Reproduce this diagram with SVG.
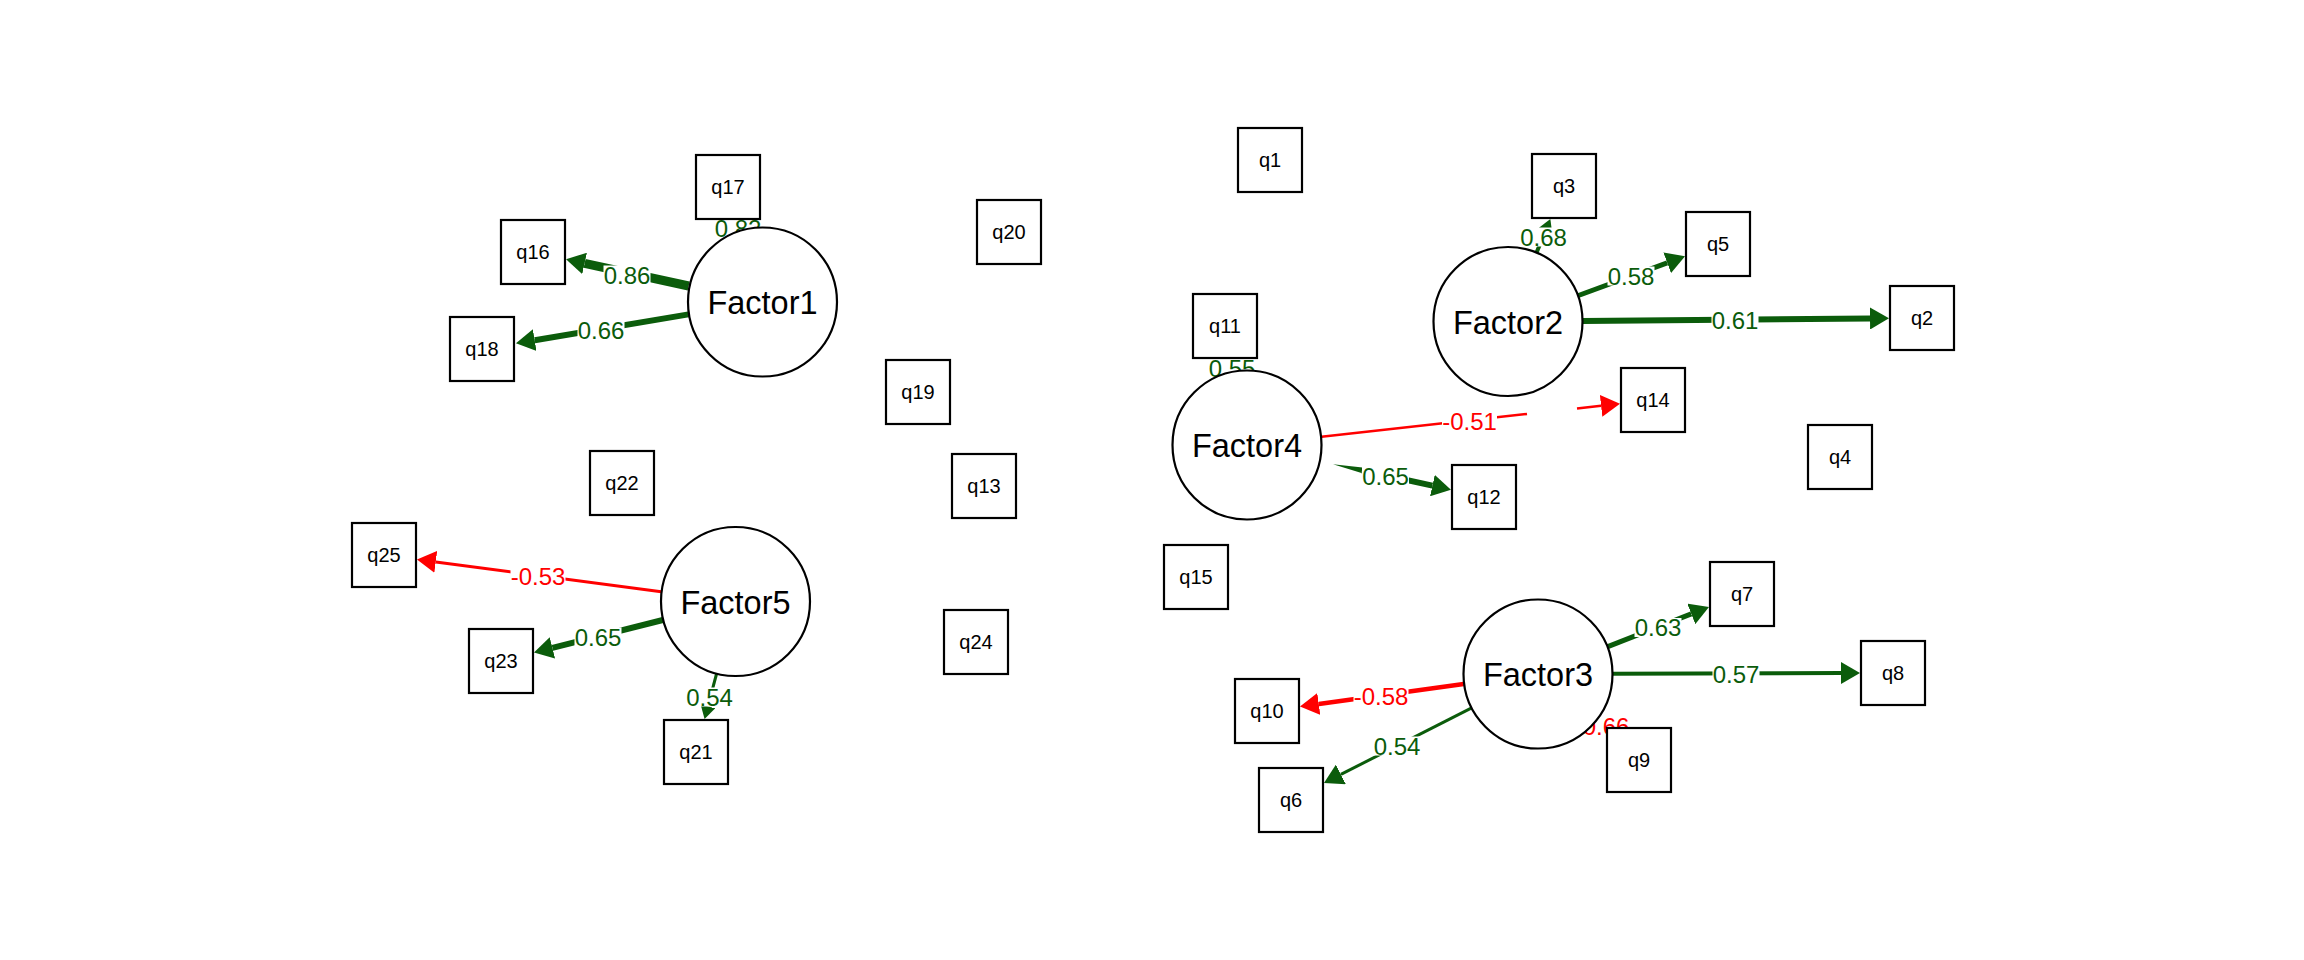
<svg xmlns="http://www.w3.org/2000/svg" width="2304" height="960" viewBox="0 0 2304 960">
<style>
.box{fill:#fff;stroke:#000;stroke-width:2.2}
.lat{fill:#fff;stroke:#000;stroke-width:2.2}
.nt{font-family:"Liberation Sans",Arial,sans-serif;font-size:20px;text-anchor:middle;fill:#000}
.ft{font-family:"Liberation Sans",Arial,sans-serif;font-size:32.5px;text-anchor:middle;fill:#000}
.pos{stroke:#0b5c0b;fill:none;stroke-linecap:butt}
.neg{stroke:#ff0000;fill:none;stroke-linecap:butt}
.el{font-family:"Liberation Sans",Arial,sans-serif;font-size:24px;text-anchor:middle}
.lp{fill:#0b5c0b}
.ln{fill:#ff0000}
.bg{fill:#fff}
</style>
<defs>
<marker id="ag" markerUnits="userSpaceOnUse" viewBox="0 0 19 22" markerWidth="19" markerHeight="22" refX="0" refY="11" orient="auto"><path d="M0,0 L19,11 L0,22 Z" fill="#0b5c0b"/></marker>
<marker id="ar" markerUnits="userSpaceOnUse" viewBox="0 0 19 22" markerWidth="19" markerHeight="22" refX="0" refY="11" orient="auto"><path d="M0,0 L19,11 L0,22 Z" fill="#ff0000"/></marker>
<marker id="ags" markerUnits="userSpaceOnUse" viewBox="0 0 13 15" markerWidth="13" markerHeight="15" refX="0" refY="7.5" orient="auto"><path d="M0,0 L13,7.5 L0,15 Z" fill="#0b5c0b"/></marker>
</defs>
<rect width="2304" height="960" fill="#fff"/>
<g id="connectors">
<path class="pos" stroke-width="9" d="M688.7,286 L584.6,263.4" marker-end="url(#ag)"/>
<path class="pos" stroke-width="6" d="M688.5,314.4 L534.7,340.2" marker-end="url(#ag)"/>
<path class="pos" stroke-width="3" d="M741,231 L738,220"/>
<path class="neg" stroke-width="3" d="M661.2,591.7 L435.8,561.9" marker-end="url(#ar)"/>
<path class="pos" stroke-width="6" d="M662.8,620 L552.4,647.9" marker-end="url(#ag)"/>
<path class="pos" stroke-width="3" d="M716.5,674 L707.9,706.4" marker-end="url(#ags)"/>
<path class="pos" stroke-width="4" d="M1536.7,252.2 L1545.4,231" marker-end="url(#ags)"/>
<path class="pos" stroke-width="5" d="M1578.4,295.5 L1667.2,262.8" marker-end="url(#ag)"/>
<path class="pos" stroke-width="6" d="M1583,320.9 L1870,318.5" marker-end="url(#ag)"/>
<path class="neg" stroke-width="2.5" d="M1321.5,436.7 L1527,414"/>
<path class="neg" stroke-width="2.5" d="M1577,408.5 L1601.1,405.8" marker-end="url(#ar)"/>
<polygon fill="#0b5c0b" points="1333,464.3 1362.5,467.4 1361.5,473"/>
<path class="pos" stroke-width="6" d="M1362,470.2 L1432.4,485.6" marker-end="url(#ag)"/>
<path class="pos" stroke-width="3" d="M1233.3,371.3 L1231,359"/>
<path class="neg" stroke-width="4.5" d="M1463.7,684.1 L1318.8,704" marker-end="url(#ar)"/>
<path class="pos" stroke-width="3" d="M1471.2,708.1 L1340.9,774.4" marker-end="url(#ag)"/>
<path class="pos" stroke-width="5" d="M1607.8,646.6 L1691.3,613.9" marker-end="url(#ag)"/>
<path class="pos" stroke-width="4" d="M1613,673.8 L1841,673" marker-end="url(#ag)"/>
<path class="neg" stroke-width="3" d="M1595,722.6 L1600,727"/>
<g id="edge-labels">
<rect class="bg" x="603.5" y="265.5" width="47" height="19"/><text class="el lp" x="627" y="283.6">0.86</text>
<rect class="bg" x="577.5" y="320.5" width="47" height="19"/><text class="el lp" x="601" y="338.6">0.66</text>
<rect class="bg" x="714.5" y="219" width="47" height="19"/><text class="el lp" x="738" y="237">0.82</text>
<rect class="bg" x="510.5" y="566.5" width="55" height="19"/><text class="el ln" x="538" y="584.6">-0.53</text>
<rect class="bg" x="574.5" y="627.5" width="47" height="19"/><text class="el lp" x="598" y="645.6">0.65</text>
<rect class="bg" x="686" y="687.5" width="47" height="19"/><text class="el lp" x="709.5" y="705.6">0.54</text>
<rect class="bg" x="1520" y="227.5" width="47" height="19"/><text class="el lp" x="1543.5" y="245.6">0.68</text>
<rect class="bg" x="1607.5" y="266.5" width="47" height="19"/><text class="el lp" x="1631" y="284.6">0.58</text>
<rect class="bg" x="1711.5" y="311" width="47" height="19"/><text class="el lp" x="1735" y="329.1">0.61</text>
<rect class="bg" x="1442" y="411.5" width="55" height="19"/><text class="el ln" x="1469.5" y="429.6">-0.51</text>
<rect class="bg" x="1362" y="466.5" width="47" height="19"/><text class="el lp" x="1385.5" y="484.6">0.65</text>
<rect class="bg" x="1208.5" y="359" width="47" height="19"/><text class="el lp" x="1232" y="377">0.55</text>
<rect class="bg" x="1353.5" y="686.5" width="55" height="19"/><text class="el ln" x="1381" y="704.6">-0.58</text>
<rect class="bg" x="1373.5" y="736.5" width="47" height="19"/><text class="el lp" x="1397" y="754.6">0.54</text>
<rect class="bg" x="1574.5" y="717" width="55" height="19"/><text class="el ln" x="1602" y="735">-0.66</text>
<rect class="bg" x="1634.5" y="618" width="47" height="19"/><text class="el lp" x="1658" y="636">0.63</text>
<rect class="bg" x="1712.5" y="664.5" width="47" height="19"/><text class="el lp" x="1736" y="682.6">0.57</text>
</g>
</g>
<g id="Factor1"><circle class="lat" cx="762.5" cy="302" r="74.5"/><text class="ft" x="762.5" y="314">Factor1</text></g>
<g id="Factor2"><circle class="lat" cx="1508" cy="321.5" r="74.5"/><text class="ft" x="1508" y="333.5">Factor2</text></g>
<g id="Factor3"><circle class="lat" cx="1538" cy="674" r="74.5"/><text class="ft" x="1538" y="686">Factor3</text></g>
<g id="Factor4"><circle class="lat" cx="1247" cy="445" r="74.5"/><text class="ft" x="1247" y="457">Factor4</text></g>
<g id="Factor5"><circle class="lat" cx="735.5" cy="601.5" r="74.5"/><text class="ft" x="735.5" y="613.5">Factor5</text></g>
<g id="q1"><rect class="box" x="1238" y="128" width="64" height="64"/><text class="nt" x="1270" y="167">q1</text></g>
<g id="q2"><rect class="box" x="1890" y="286" width="64" height="64"/><text class="nt" x="1922" y="325">q2</text></g>
<g id="q3"><rect class="box" x="1532" y="154" width="64" height="64"/><text class="nt" x="1564" y="193">q3</text></g>
<g id="q4"><rect class="box" x="1808" y="425" width="64" height="64"/><text class="nt" x="1840" y="464">q4</text></g>
<g id="q5"><rect class="box" x="1686" y="212" width="64" height="64"/><text class="nt" x="1718" y="251">q5</text></g>
<g id="q6"><rect class="box" x="1259" y="768" width="64" height="64"/><text class="nt" x="1291" y="807">q6</text></g>
<g id="q7"><rect class="box" x="1710" y="562" width="64" height="64"/><text class="nt" x="1742" y="601">q7</text></g>
<g id="q8"><rect class="box" x="1861" y="641" width="64" height="64"/><text class="nt" x="1893" y="680">q8</text></g>
<g id="q9"><rect class="box" x="1607" y="728" width="64" height="64"/><text class="nt" x="1639" y="767">q9</text></g>
<g id="q10"><rect class="box" x="1235" y="679" width="64" height="64"/><text class="nt" x="1267" y="718">q10</text></g>
<g id="q11"><rect class="box" x="1193" y="294" width="64" height="64"/><text class="nt" x="1225" y="333">q11</text></g>
<g id="q12"><rect class="box" x="1452" y="465" width="64" height="64"/><text class="nt" x="1484" y="504">q12</text></g>
<g id="q13"><rect class="box" x="952" y="454" width="64" height="64"/><text class="nt" x="984" y="493">q13</text></g>
<g id="q14"><rect class="box" x="1621" y="368" width="64" height="64"/><text class="nt" x="1653" y="407">q14</text></g>
<g id="q15"><rect class="box" x="1164" y="545" width="64" height="64"/><text class="nt" x="1196" y="584">q15</text></g>
<g id="q16"><rect class="box" x="501" y="220" width="64" height="64"/><text class="nt" x="533" y="259">q16</text></g>
<g id="q17"><rect class="box" x="696" y="155" width="64" height="64"/><text class="nt" x="728" y="194">q17</text></g>
<g id="q18"><rect class="box" x="450" y="317" width="64" height="64"/><text class="nt" x="482" y="356">q18</text></g>
<g id="q19"><rect class="box" x="886" y="360" width="64" height="64"/><text class="nt" x="918" y="399">q19</text></g>
<g id="q20"><rect class="box" x="977" y="200" width="64" height="64"/><text class="nt" x="1009" y="239">q20</text></g>
<g id="q21"><rect class="box" x="664" y="720" width="64" height="64"/><text class="nt" x="696" y="759">q21</text></g>
<g id="q22"><rect class="box" x="590" y="451" width="64" height="64"/><text class="nt" x="622" y="490">q22</text></g>
<g id="q23"><rect class="box" x="469" y="629" width="64" height="64"/><text class="nt" x="501" y="668">q23</text></g>
<g id="q24"><rect class="box" x="944" y="610" width="64" height="64"/><text class="nt" x="976" y="649">q24</text></g>
<g id="q25"><rect class="box" x="352" y="523" width="64" height="64"/><text class="nt" x="384" y="562">q25</text></g>
</svg>
